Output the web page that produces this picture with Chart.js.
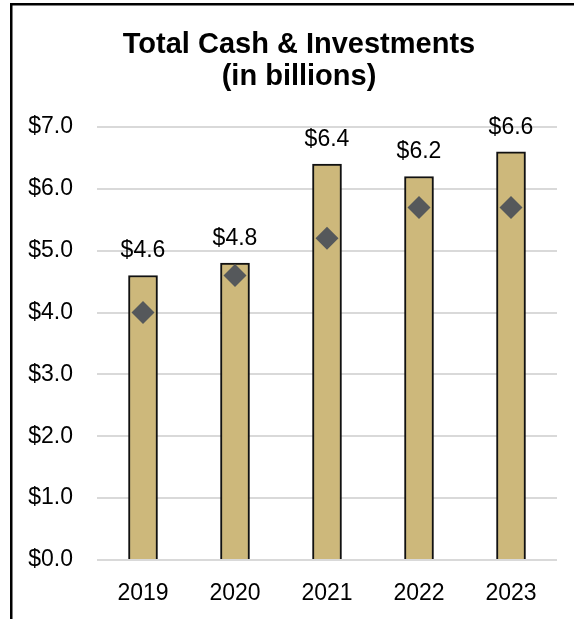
<!DOCTYPE html>
<html>
<head>
<meta charset="utf-8">
<script src="https://cdn.jsdelivr.net/npm/chart.js@4"></script>
<style>
  html, body { margin: 0; padding: 0; background: #ffffff; }
  #wrap { position: absolute; left: 0; top: 0; width: 574px; height: 619px; }
</style>
</head>
<body>
<div id="wrap"><canvas id="chart" width="574" height="619"></canvas></div>
<script>
// Fiscal years shown on the x axis
const years = ['2019', '2020', '2021', '2022', '2023'];
// Total cash & investments, in billions of dollars (bars)
const totalCash = [4.6, 4.8, 6.4, 6.2, 6.6];
// Comparison marker values, in billions (diamonds)
const markerValues = [4.0, 4.6, 5.2, 5.7, 5.7];
// Y axis tick values
const yTicks = [0, 1, 2, 3, 4, 5, 6, 7];
// Two-line chart heading
const titleLines = ['Total Cash & Investments', '(in billions)'];

const FONT = "'Liberation Sans', Arial, Helvetica, sans-serif";

// Frame along the top and left edges of the figure
const framePlugin = {
  id: 'frame',
  beforeDraw(chart) {
    const ctx = chart.ctx;
    ctx.save();
    ctx.fillStyle = '#000000';
    ctx.fillRect(10, 3, 564, 2.5);
    ctx.fillRect(10, 3, 2.5, 616);
    ctx.restore();
  }
};

// Heading, centred over the framed area
const headingPlugin = {
  id: 'heading',
  afterDraw(chart) {
    const ctx = chart.ctx;
    ctx.save();
    ctx.font = 'bold 29px ' + FONT;
    ctx.fillStyle = '#000000';
    ctx.textAlign = 'center';
    ctx.textBaseline = 'middle';
    titleLines.forEach((line, i) => ctx.fillText(line, 299, 45 + i * 32));
    ctx.restore();
  }
};

// Value labels above each bar
const barLabelPlugin = {
  id: 'barLabels',
  afterDatasetsDraw(chart) {
    const meta = chart.getDatasetMeta(0);
    const ctx = chart.ctx;
    ctx.save();
    ctx.font = '23px ' + FONT;
    ctx.fillStyle = '#000000';
    ctx.textAlign = 'center';
    ctx.textBaseline = 'alphabetic';
    meta.data.forEach((bar, i) => {
      ctx.fillText('$' + totalCash[i].toFixed(1), bar.x, bar.y - 18);
    });
    ctx.restore();
  }
};

new Chart(document.getElementById('chart'), {
  data: {
    labels: years,
    datasets: [
      {
        type: 'bar',
        label: 'Total Cash & Investments',
        data: totalCash,
        backgroundColor: '#CDB87B',
        borderColor: '#111111',
        borderWidth: 2,
        barThickness: 29,
        order: 2
      },
      {
        type: 'line',
        label: 'Marker',
        data: markerValues,
        showLine: false,
        pointStyle: 'rectRot',
        pointRadius: 11.5,
        pointHoverRadius: 11.5,
        pointBackgroundColor: '#55585B',
        pointBorderWidth: 0,
        pointBorderColor: '#55585B',
        order: 1
      }
    ]
  },
  options: {
    responsive: false,
    animation: false,
    events: [],
    layout: { padding: { left: 12, right: 17, top: 127, bottom: 0 } },
    plugins: {
      legend: { display: false },
      tooltip: { enabled: false },
      title: { display: false }
    },
    scales: {
      x: {
        afterFit(scale) { scale.height = 59; },
        grid: { display: false, drawTicks: false },
        border: { display: false },
        ticks: { color: '#000000', font: { family: FONT, size: 23 }, padding: 20 }
      },
      y: {
        min: 0,
        max: 7,
        afterBuildTicks(scale) { scale.ticks = yTicks.map(v => ({ value: v })); },
        afterFit(scale) { scale.width = 85; },
        grid: { color: '#D9D9D9', lineWidth: 2, drawTicks: false },
        border: { display: false },
        ticks: {
          color: '#000000',
          font: { family: FONT, size: 23 },
          padding: 24,
          callback: v => '$' + Number(v).toFixed(1)
        }
      }
    }
  },
  plugins: [framePlugin, barLabelPlugin, headingPlugin]
});
</script>
</body>
</html>
